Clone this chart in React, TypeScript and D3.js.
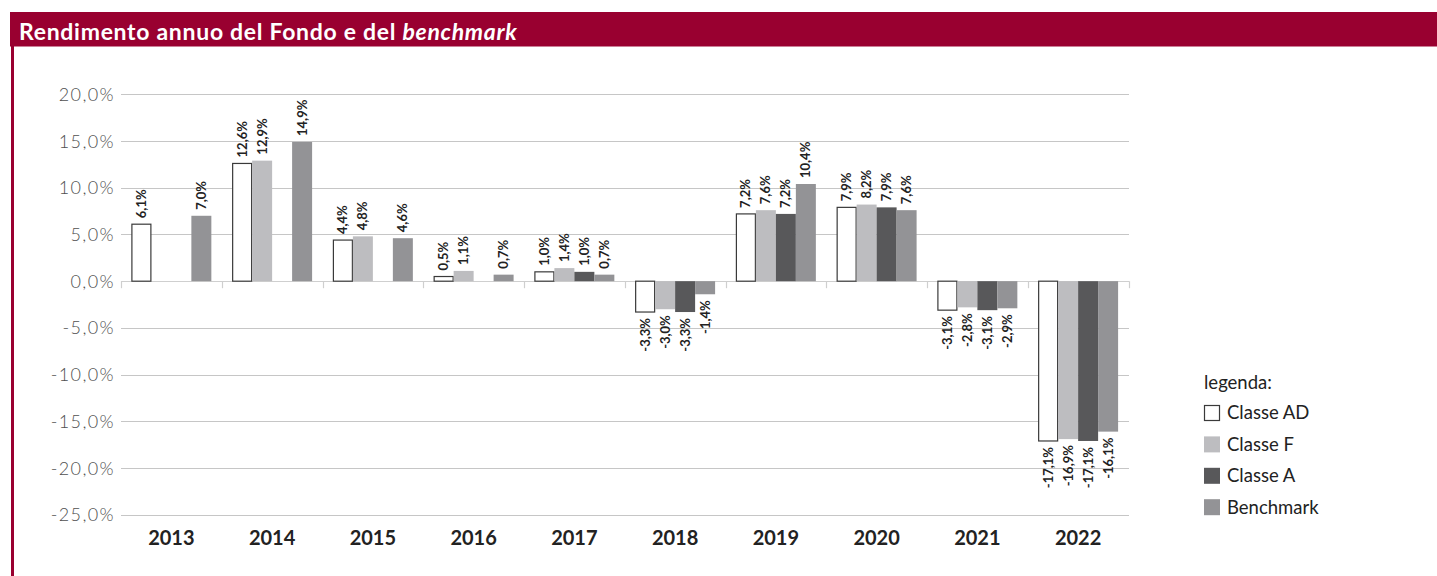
import React, { useEffect, useRef } from "react";
import * as d3 from "d3";

const years = ["2013", "2014", "2015", "2016", "2017", "2018", "2019", "2020", "2021", "2022"];
const seriesNames = ["Classe AD", "Classe F", "Classe A", "Benchmark"];
const classeAD = [6.1, 12.6, 4.4, 0.5, 1.0, -3.3, 7.2, 7.9, -3.1, -17.1];
const classeF = [null, 12.9, 4.8, 1.1, 1.4, -3.0, 7.6, 8.2, -2.8, -16.9];
const classeA = [null, null, null, null, 1.0, -3.3, 7.2, 7.9, -3.1, -17.1];
const benchmark = [7.0, 14.9, 4.6, 0.7, 0.7, -1.4, 10.4, 7.6, -2.9, -16.1];
const yTicks = [20, 15, 10, 5, 0, -5, -10, -15, -20, -25];
const colors = ["#ffffff", "#bdbdc0", "#58585a", "#939396"];

const W = 1437;
const H = 576;
const FONT = "Lato, 'Noto Sans', sans-serif";

const fmt = (v: number) => d3.format(".1f")(v).replace("−", "-").replace(".", ",") + "%";

export default function App() {
  const ref = useRef<SVGSVGElement>(null);

  useEffect(() => {
    const svg = d3.select(ref.current);
    svg.selectAll("*").remove();

    const series = [classeAD, classeF, classeA, benchmark];

    // header band
    svg.append("rect").attr("x", 10).attr("y", 12).attr("width", W - 10).attr("height", 34.5).attr("fill", "#990030");
    svg.append("rect").attr("x", 11).attr("y", 46).attr("width", 3).attr("height", H - 46).attr("fill", "#990030");
    const title = svg.append("text").attr("x", 19).attr("y", 39.5).attr("fill", "#ffffff")
      .attr("font-family", FONT).attr("font-size", 23).attr("font-weight", 700)
      .attr("letter-spacing", 0.7);
    title.append("tspan").text("Rendimento annuo del Fondo e del ");
    title.append("tspan").attr("font-style", "italic").text("benchmark");

    const x0 = d3.scaleBand().domain(years).range([121, 1128.5]).paddingInner(0).paddingOuter(0);
    const x1 = d3.scaleBand().domain(seriesNames).range([10.4, x0.bandwidth() - 10.4]).paddingOuter(0).paddingInner(0);
    const y = d3.scaleLinear().domain([-25, 20]).range([514.8, 94.3]);

    // gridlines
    const grid = svg.append("g");
    yTicks.forEach((t) => {
      grid.append("line").attr("x1", 121).attr("x2", 1129)
        .attr("y1", Math.round(y(t)) + 0.5).attr("y2", Math.round(y(t)) + 0.5)
        .attr("stroke", t === 0 ? "#cfcfcf" : "#c6c6c6").attr("stroke-width", 1.2);
      grid.append("text").attr("x", 115).attr("y", y(t)).attr("dy", "0.36em")
        .attr("text-anchor", "end").attr("font-family", FONT).attr("font-weight", 300)
        .attr("font-size", 18).attr("letter-spacing", 1.4).attr("fill", "#505050")
        .text(fmt(t));
    });
    // category ticks
    const tickPos = years.map((yr) => x0(yr)!).concat([x0(years[years.length - 1])! + x0.bandwidth()]);
    tickPos.forEach((p) => {
      grid.append("line").attr("x1", Math.round(p) + 0.5).attr("x2", Math.round(p) + 0.5)
        .attr("y1", y(0)).attr("y2", y(0) + 7).attr("stroke", "#cfcfcf").attr("stroke-width", 1.2);
    });

    // bars
    const bars = svg.append("g");
    years.forEach((yr, i) => {
      series.forEach((s, j) => {
        const v = s[i];
        if (v === null || v === undefined) return;
        const bx = x0(yr)! + x1(seriesNames[j])!;
        const bw = x1.bandwidth();
        const top = y(Math.max(0, v));
        const bot = y(Math.min(0, v));
        bars.append("rect").attr("x", bx + (j === 0 ? 0.5 : 0)).attr("y", top)
          .attr("width", bw - (j === 0 ? 1 : 0)).attr("height", bot - top)
          .attr("fill", colors[j]).attr("stroke", j === 0 ? "#3a3a3a" : "none").attr("stroke-width", 1.2);
        const cx = bx + bw / 2;
        const ly = v >= 0 ? top - 6 : bot + 6;
        bars.append("text")
          .attr("transform", `translate(${cx},${ly}) rotate(-90)`)
          .attr("dy", "0.35em")
          .attr("text-anchor", v >= 0 ? "start" : "end")
          .attr("font-family", FONT).attr("font-weight", 700).attr("font-size", 13).attr("fill", "#222")
          .text(fmt(v));
      });
    });

    // year labels
    years.forEach((yr) => {
      svg.append("text").attr("x", x0(yr)! + x0.bandwidth() / 2).attr("y", 545)
        .attr("text-anchor", "middle").attr("font-family", FONT).attr("font-weight", 700)
        .attr("font-size", 20).attr("fill", "#222").text(yr);
    });

    // legend
    const lg = svg.append("g");
    lg.append("text").attr("x", 1204).attr("y", 383).attr("dy", "0.35em").attr("font-family", FONT)
      .attr("font-size", 18.5).attr("fill", "#222").text("legenda:");
    seriesNames.forEach((n, j) => {
      const cy = 413 + j * 31.4;
      lg.append("rect").attr("x", j === 0 ? 1204.5 : 1204).attr("y", cy - 8 + (j === 0 ? 0.5 : 0))
        .attr("width", j === 0 ? 15 : 16).attr("height", j === 0 ? 15 : 16)
        .attr("fill", colors[j]).attr("stroke", j === 0 ? "#3a3a3a" : "none").attr("stroke-width", 1.2);
      lg.append("text").attr("x", 1227).attr("y", cy).attr("dy", "0.35em").attr("font-family", FONT)
        .attr("font-size", 18.5).attr("fill", "#222").text(n);
    });
  }, []);

  return (
    <svg ref={ref} width={W} height={H} style={{ position: "absolute", left: 0, top: 0, background: "#fff" }} />
  );
}
